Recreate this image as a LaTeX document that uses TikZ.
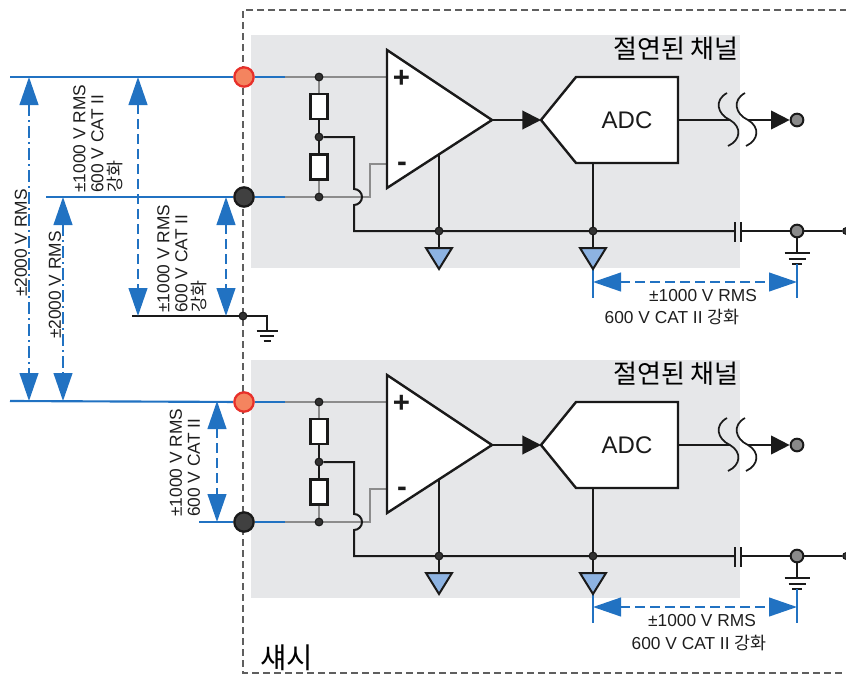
\documentclass[tikz,border=0pt]{standalone}
\usepackage{fontspec}
\setmainfont{Liberation Sans}
\newfontfamily\kr{Noto Sans CJK KR}
\usetikzlibrary{arrows.meta}
\pgfdeclarelayer{boxes}
\pgfdeclarelayer{wires}
\pgfsetlayers{boxes,wires,main}
\definecolor{dimblue}{RGB}{33,114,194}
\definecolor{wiregray}{RGB}{140,140,140}
\definecolor{wireblack}{RGB}{26,26,26}
\definecolor{boxgray}{RGB}{230,231,233}
\definecolor{termred}{RGB}{244,132,95}
\definecolor{termredline}{RGB}{232,48,42}
\definecolor{termdark}{RGB}{64,64,64}
\definecolor{dotfill}{RGB}{50,50,50}
\definecolor{gndblue}{RGB}{141,179,226}
\definecolor{chassiscol}{RGB}{95,95,95}
\definecolor{outgray}{RGB}{138,138,138}
\definecolor{labeltext}{RGB}{30,30,30}
\begin{document}
\begin{tikzpicture}[x=0.75pt,y=-0.75pt,
  wire/.style={draw=wireblack,line width=1.5pt},
  gwire/.style={draw=wiregray,line width=1.5pt},
  bwire/.style={draw=dimblue,line width=1.6pt},
  dot/.style={circle,fill=dotfill,draw=wireblack,line width=0.8pt,inner sep=0pt,minimum size=5.8pt},
  redterm/.style={circle,fill=termred,draw=termredline,line width=1.7pt,inner sep=0pt,minimum size=14.5pt},
  darkterm/.style={circle,fill=termdark,draw=wireblack,line width=1.7pt,inner sep=0pt,minimum size=14.5pt},
  outdot/.style={circle,fill=outgray,draw=wireblack,line width=1.5pt,inner sep=0pt,minimum size=9.5pt},
  resbox/.style={rectangle,fill=white,draw=wireblack,line width=1.8pt,inner sep=0pt,minimum width=12.5pt,minimum height=18.5pt},
  symbol/.style={fill=white,draw=wireblack,line width=1.8pt,line join=miter},
  gndtri/.style={fill=gndblue,draw=wireblack,line width=1.5pt,line join=miter},
  dimline/.style={draw=dimblue,line width=1.6pt,{Triangle[length=21pt,width=14pt]}-{Triangle[length=21pt,width=14pt]}},
  dashedpat/.style={dash pattern=on 7.5pt off 3.75pt},
  dashdotpat/.style={dash pattern=on 9pt off 3pt on 1.5pt off 3pt},
  lbl/.style={font=\fontsize{13}{13.5}\selectfont,inner sep=0pt,text=labeltext},
  sigarrow/.style={-{Triangle[length=14pt,width=14pt]}},
  chassisline/.style={draw=chassiscol,line width=1.5pt,dash pattern=on 5.25pt off 3pt},
  titletext/.style={font=\kr\fontsize{19.5}{19.5}\selectfont,inner sep=0pt,text=black},
  signtext/.style={font=\fontsize{22}{22}\selectfont\bfseries,inner sep=0pt,text=wireblack},
  adctext/.style={font=\fontsize{18}{18}\selectfont,inner sep=0pt,text=wireblack}
]
\useasboundingbox (0,0) rectangle (846,675);
\begin{pgfonlayer}{boxes}
\fill[boxgray] (251,35) rectangle (740,268);
\fill[boxgray] (251,360) rectangle (740,598);
\end{pgfonlayer}
% chassis
\draw[chassisline] (880,10) -- (243,10) -- (243,673) -- (880,673);
\node[titletext,anchor=east] (title1) at (739,49) {절연된 채널};
\node[titletext,anchor=east] (title2) at (739,374) {절연된 채널};
\node[titletext,anchor=west,font=\kr\fontsize{21.5}{21.5}\selectfont] (chassis) at (260,658) {섀시};

\foreach \i/\o in {1/0,2/325}{
\begin{scope}[shift={(0,\o)}]
  \coordinate (bwa\i) at (285,77);
  \coordinate (bwb\i) at (285,197);
  \coordinate (pin\i) at (387,77);
  \coordinate (min\i) at (387,164);
  \coordinate (mbend\i) at (370,197);
  \coordinate (mup\i) at (370,164);
  \coordinate (fb\i) at (354,137);
  \coordinate (hop\i) at (354,189);
  \coordinate (capl\i) at (735,231);
  \coordinate (capr\i) at (741,231);
  \coordinate (edge\i) at (846,231);
  \coordinate (ampgnd\i) at (439,154.3);
  \coordinate (adcgnd\i) at (593,163);
  \coordinate (ampout\i) at (492,120);
  \coordinate (adcin\i) at (541,120);
  \coordinate (adcout\i) at (678,120);
  \coordinate (brka\i) at (730,120);
  \coordinate (brkb\i) at (748,120);
  \coordinate (gta\i) at (439,248);
  \coordinate (gtb\i) at (593,248);
  \coordinate (earth\i) at (797,253);
  \coordinate (exa\i) at (593,269);
  \coordinate (exa2\i) at (593,298);
  \coordinate (exb\i) at (797,264);
  \coordinate (exb2\i) at (797,298);
  \coordinate (dl\i) at (593,282);
  \coordinate (dr\i) at (797,282);
  % nodes
  \node[redterm] (red\i) at (244,77) {};
  \node[darkterm] (blk\i) at (244,197) {};
  \node[dot] (da\i) at (319,77) {};
  \node[dot] (db\i) at (319,137) {};
  \node[dot] (dc\i) at (319,197) {};
  \node[resbox] (ra\i) at (319,106.5) {};
  \node[resbox] (rb\i) at (319,167) {};
  \node[dot] (gd1\i) at (439,231) {};
  \node[dot] (gd2\i) at (593,231) {};
  \node[outdot] (odot\i) at (797,120) {};
  \node[outdot] (gdot\i) at (797,231) {};
  \node[dot,minimum size=5pt] (edot\i) at (846,231) {};
  % amplifier
  \draw[symbol] (387,50) -- (ampout\i) -- (387,188) -- cycle;
  \node[signtext] (plus\i) at (401.5,78.5) {+};
  \node[signtext] (minus\i) at (402,167) {-};
  % ADC
  \draw[symbol] (adcin\i) -- (576,77) -- (678,77) -- (678,163) -- (576,163) -- cycle;
  \node[adctext] (adc\i) at (627,120) {ADC};
  % ground triangles
  \draw[gndtri] (426,248) -- (452,248) -- (439,269) -- cycle;
  \draw[gndtri] (580,248) -- (606,248) -- (593,269) -- cycle;
  \begin{pgfonlayer}{wires}
    \draw[bwire] (red\i) -- (bwa\i);
    \draw[gwire] (bwa\i) -- (pin\i);
    \draw[bwire] (blk\i) -- (bwb\i);
    \draw[gwire] (bwb\i) -- (mbend\i) -- (mup\i) -- (min\i);
    \draw[gwire] (da\i) -- (ra\i);
    \draw[gwire] (rb\i) -- (dc\i);
    \draw[wire] (ra\i) -- (db\i) -- (rb\i);
    \draw[wire] (db\i) -- (fb\i) -- (hop\i) arc[start angle=-90,end angle=90,radius=8] -- (354,231) -- (capl\i);
    \draw[wire] (ampgnd\i) -- (gd1\i) -- (gta\i);
    \draw[wire] (adcgnd\i) -- (gd2\i) -- (gtb\i);
    \draw[wire,sigarrow] (ampout\i) -- (adcin\i);
    \draw[wire] (adcout\i) -- (brka\i);
    \draw[wire,sigarrow] (brkb\i) -- (odot\i);
    \draw[wire,line width=1.3pt] (727,93) .. controls (714,100) and (717,114) .. (730,120) .. controls (742,127) and (741,140) .. (728,146);
    \draw[wire,line width=1.3pt] (745,93) .. controls (732,100) and (735,114) .. (748,120) .. controls (760,127) and (759,140) .. (746,146);
    \draw[wire] (735,222) -- (735,242);
    \draw[wire] (741,222) -- (741,242);
    \draw[wire] (capr\i) -- (gdot\i) -- (edot\i);
    \draw[wire] (gdot\i) -- (earth\i);
    \draw[wire] (784.5,253) -- (809.5,253);
    \draw[wire] (788.5,259) -- (805.5,259);
    \draw[wire] (792,264) -- (802,264);
    \draw[bwire] (exa\i) -- (exa2\i);
    \draw[bwire] (exb\i) -- (exb2\i);
  \end{pgfonlayer}
  \draw[dimline,dashedpat] (dl\i) -- (dr\i);
\end{scope}
}

% left connection lines
\coordinate (l1) at (10,77);
\coordinate (l2) at (46,197);
\coordinate (l3) at (10,401);
\coordinate (l4) at (199,522);
\begin{pgfonlayer}{wires}
\draw[bwire] (l1) -- (red1);
\draw[bwire] (l2) -- (blk1);
\draw[bwire] (l3) -- (red2);
\draw[bwire] (l4) -- (blk2);
\end{pgfonlayer}
% chassis ground
\coordinate (g0) at (132,316);
\node[dot] (cgdot) at (243,316) {};
\coordinate (gc) at (267,316);
\coordinate (ge) at (267,331);
\begin{pgfonlayer}{wires}
\draw[wire] (g0) -- (cgdot) -- (gc) -- (ge);
\draw[wire] (256.5,331) -- (277.5,331);
\draw[wire] (260,336) -- (274,336);
\draw[wire] (263.5,341) -- (270.5,341);
\end{pgfonlayer}

% vertical dimension arrows
\coordinate (a1t) at (29,77);  \coordinate (a1b) at (29,401);
\coordinate (a2t) at (63,197); \coordinate (a2b) at (63,401);
\coordinate (a3t) at (138,77); \coordinate (a3b) at (138,316);
\coordinate (a4t) at (226,197); \coordinate (a4b) at (226,316);
\coordinate (a5t) at (217,401); \coordinate (a5b) at (217,522);
\draw[dimline,dashdotpat] (a1t) -- (a1b);
\draw[dimline,dashdotpat] (a2t) -- (a2b);
\draw[dimline,dashedpat] (a3t) -- (a3b);
\draw[dimline,dashedpat] (a4t) -- (a4b);
\draw[dimline,dashedpat] (a5t) -- (a5b);

% labels
\node[lbl] (lab1a) at (703,296) {±1000 V RMS};
\node[lbl] (lab1b) at (672,317) {600 V CAT II {\kr 강화}};
\node[lbl] (lab2a) at (702,621) {±1000 V RMS};
\node[lbl] (lab2b) at (699,643) {600 V CAT II {\kr 강화}};
\node[lbl,rotate=90] (v1) at (21,243) {±2000 V RMS};
\node[lbl,rotate=90] (v2) at (55,285) {±2000 V RMS};
\node[lbl,rotate=90,anchor=west,align=left] (v3) at (98,193) {±1000 V RMS\\600 V CAT II\\{\kr 강화}};
\node[lbl,rotate=90,anchor=west,align=left] (v4) at (182,313) {±1000 V RMS\\600 V CAT II\\{\kr 강화}};
\node[lbl,rotate=90,anchor=west,align=left] (v5) at (185,517) {±1000 V RMS\\600 V CAT II};
\end{tikzpicture}
\end{document}
